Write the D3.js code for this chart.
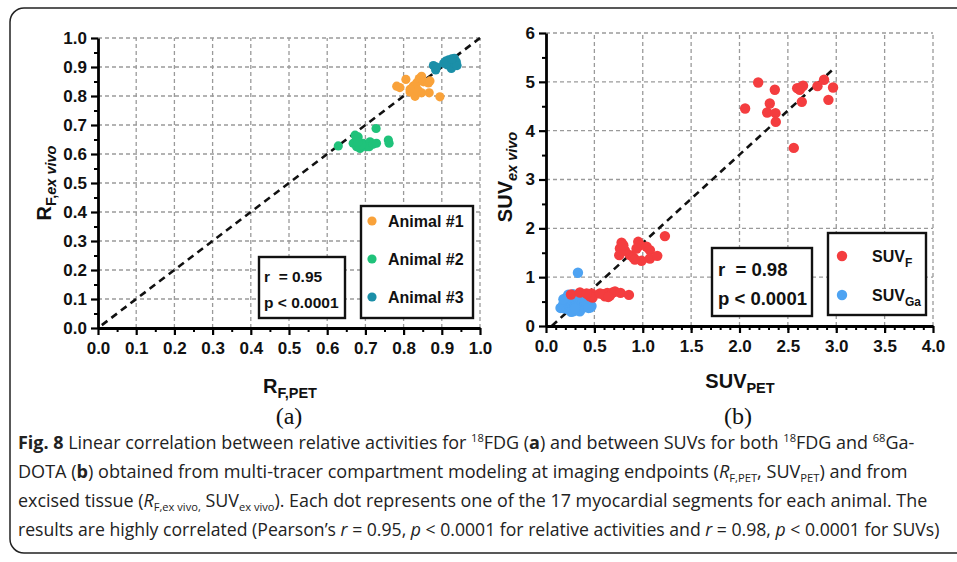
<!DOCTYPE html>
<html>
<head>
<meta charset="utf-8">
<script src="https://cdn.jsdelivr.net/npm/d3@7"></script>
<style>
  body { margin: 0; background: #fff; }
  svg { display: block; }
  text { font-family: "Liberation Sans", Arial, sans-serif; }
  text.cap { font-family: "Open Sans", "Noto Sans", sans-serif; }
  text.serif { font-family: "Liberation Serif", "DejaVu Serif", serif; }
</style>
</head>
<body>
<svg id="fig" width="957" height="562"></svg>
<script>
// ---- panel (a): relative activities, R_F,PET vs R_F,ex vivo ----
const animal1 = [
  [0.782, 0.834], [0.790, 0.829], [0.806, 0.857], [0.817, 0.814], [0.830, 0.799],
  [0.825, 0.834], [0.834, 0.845], [0.841, 0.860], [0.847, 0.868], [0.852, 0.849],
  [0.865, 0.845], [0.869, 0.852], [0.847, 0.811], [0.867, 0.811], [0.895, 0.797],
  [0.817, 0.823], [0.838, 0.820]
];
const animal2 = [
  [0.629, 0.628], [0.673, 0.665], [0.681, 0.659], [0.668, 0.637], [0.677, 0.625],
  [0.686, 0.619], [0.694, 0.637], [0.703, 0.625], [0.712, 0.642], [0.710, 0.625],
  [0.720, 0.634], [0.729, 0.637], [0.728, 0.688], [0.760, 0.648], [0.762, 0.637],
  [0.690, 0.632], [0.680, 0.640]
];
const animal3 = [
  [0.878, 0.905], [0.884, 0.890], [0.886, 0.900], [0.905, 0.913], [0.910, 0.920],
  [0.915, 0.907], [0.918, 0.925], [0.922, 0.915], [0.925, 0.895], [0.928, 0.903],
  [0.930, 0.922], [0.933, 0.930], [0.935, 0.910], [0.938, 0.918], [0.940, 0.905],
  [0.912, 0.912], [0.926, 0.928]
];
const identityLine = [[0.01, 0.01], [1, 1]];
const animalNames = ["Animal #1", "Animal #2", "Animal #3"];
const statsA = ["r  = 0.95", "p < 0.0001"];

// ---- panel (b): SUV_PET vs SUV_ex vivo ----
const suvF = [
  // high cluster
  [2.058, 4.453], [2.193, 4.987], [2.313, 4.556], [2.286, 4.371], [2.365, 4.837],
  [2.372, 4.358], [2.375, 4.180], [2.561, 3.647], [2.596, 4.871], [2.623, 4.837],
  [2.640, 4.892], [2.657, 4.919], [2.644, 4.590], [2.806, 4.912], [2.874, 5.042],
  [2.919, 4.631], [2.967, 4.884],
  // middle cluster
  [0.781, 1.704], [0.764, 1.588], [0.757, 1.451], [0.816, 1.540], [0.868, 1.451],
  [0.902, 1.403], [0.953, 1.724], [0.971, 1.656], [0.988, 1.335], [1.040, 1.622],
  [1.074, 1.553], [1.074, 1.383], [1.150, 1.437], [1.229, 1.841], [0.919, 1.362],
  [0.799, 1.656], [0.936, 1.588],
  // low cluster
  [0.258, 0.644], [0.351, 0.685], [0.437, 0.644], [0.472, 0.665], [0.482, 0.583],
  [0.592, 0.650], [0.609, 0.609], [0.633, 0.678], [0.661, 0.623], [0.689, 0.685],
  [0.713, 0.706], [0.771, 0.678], [0.857, 0.637], [0.454, 0.609], [0.558, 0.665],
  [0.644, 0.595], [0.420, 0.665]
];
const suvGa = [
  [0.15, 0.37], [0.17, 0.40], [0.18, 0.45], [0.19, 0.36], [0.20, 0.50], [0.20, 0.42],
  [0.21, 0.58], [0.22, 0.47], [0.22, 0.35], [0.23, 0.55], [0.24, 0.40], [0.24, 0.62],
  [0.25, 0.45], [0.25, 0.33], [0.26, 0.52], [0.26, 0.38], [0.27, 0.60], [0.27, 0.43],
  [0.28, 0.48], [0.28, 0.30], [0.29, 0.55], [0.29, 0.37], [0.30, 0.42], [0.30, 0.62],
  [0.31, 0.50], [0.31, 0.32], [0.32, 0.45], [0.32, 0.58], [0.33, 1.09], [0.33, 0.40],
  [0.34, 0.52], [0.34, 0.35], [0.35, 0.47], [0.36, 0.60], [0.36, 0.40], [0.37, 0.44],
  [0.38, 0.55], [0.39, 0.38], [0.40, 0.47], [0.42, 0.40], [0.44, 0.43], [0.46, 0.38],
  [0.47, 0.41], [0.23, 0.64], [0.28, 0.65], [0.18, 0.55], [0.35, 0.30], [0.26, 0.29],
  [0.41, 0.52], [0.44, 0.37], [0.30, 0.36]
];
const fitLine = [[0.06, 0], [2.98, 5.28]];
const statsB = ["r  = 0.98", "p < 0.0001"];

const xTicksA = d3.range(0, 1.001, 0.1), yTicksA = d3.range(0, 1.001, 0.1);
const xTicksB = d3.range(0, 4.001, 0.5), yTicksB = d3.range(0, 6.001, 1);

const colors = { a1: "#f9a23a", a2: "#1fc27a", a3: "#1b8fa8", f: "#f43d3f", ga: "#4ea3f2" };

const svg = d3.select("#fig");

// outer rounded frame
svg.append("rect")
  .attr("x", 10).attr("y", 8).attr("width", 980).attr("height", 545)
  .attr("rx", 14)
  .attr("fill", "none").attr("stroke", "#222").attr("stroke-width", 1.5);

function panel(o) {
  const g = svg.append("g");
  const x = d3.scaleLinear().domain(o.xDom).range(o.xRange);
  const y = d3.scaleLinear().domain(o.yDom).range(o.yRange);

  // dashed grid
  g.append("g").selectAll("line").data(o.xTicks.slice(1)).join("line")
    .attr("x1", d => x(d)).attr("x2", d => x(d))
    .attr("y1", o.yRange[0]).attr("y2", o.yRange[1])
    .attr("stroke", "#9a9a9a").attr("stroke-width", 1.3).attr("stroke-dasharray", "4,3");
  g.append("g").selectAll("line").data(o.yTicks.slice(1)).join("line")
    .attr("y1", d => y(d)).attr("y2", d => y(d))
    .attr("x1", o.xRange[0]).attr("x2", o.xRange[1])
    .attr("stroke", "#9a9a9a").attr("stroke-width", 1.3).attr("stroke-dasharray", "4,3");

  // dashed reference / fit line
  g.append("path")
    .datum(o.line)
    .attr("d", d3.line().x(d => x(d[0])).y(d => y(d[1])))
    .attr("fill", "none").attr("stroke", "#111").attr("stroke-width", 2.6)
    .attr("stroke-dasharray", "7,5");

  // points
  o.series.forEach(s => {
    g.append("g").selectAll("circle").data(s.data).join("circle")
      .attr("cx", d => x(d[0])).attr("cy", d => y(d[1]))
      .attr("r", o.r).attr("fill", s.color);
  });

  // minor ticks
  g.append("g").attr("transform", "translate(0," + o.yRange[0] + ")")
    .call(d3.axisBottom(x).tickValues(o.xMinor).tickSize(4).tickFormat(""))
    .call(a => a.select(".domain").remove())
    .selectAll("line").attr("stroke-width", 2);
  g.append("g").attr("transform", "translate(" + o.xRange[0] + ",0)")
    .call(d3.axisLeft(y).tickValues(o.yMinor).tickSize(4).tickFormat(""))
    .call(a => a.select(".domain").remove())
    .selectAll("line").attr("stroke-width", 2);

  // major axes
  const xa = g.append("g").attr("transform", "translate(0," + o.yRange[0] + ")")
    .call(d3.axisBottom(x).tickValues(o.xTicks).tickSize(7).tickSizeOuter(0).tickFormat(o.xFmt).tickPadding(7));
  const ya = g.append("g").attr("transform", "translate(" + o.xRange[0] + ",0)")
    .call(d3.axisLeft(y).tickValues(o.yTicks).tickSize(7).tickSizeOuter(0).tickFormat(o.yFmt).tickPadding(4));
  [xa, ya].forEach(a => {
    a.select(".domain").attr("stroke-width", 2.8);
    a.selectAll(".tick line").attr("stroke-width", 2.2);
    a.selectAll("text").attr("font-size", 17).attr("font-weight", "bold").attr("fill", "#111");
  });
  return { g, x, y };
}

const pa = panel({
  xDom: [0, 1], yDom: [0, 1], xRange: [98, 480], yRange: [328, 38],
  xTicks: xTicksA, yTicks: yTicksA,
  xMinor: d3.range(0.05, 1, 0.1), yMinor: d3.range(0.05, 1, 0.1),
  xFmt: d3.format(".1f"), yFmt: d3.format(".1f"),
  line: identityLine, r: 4.6,
  series: [
    { data: animal2, color: colors.a2 },
    { data: animal1, color: colors.a1 },
    { data: animal3, color: colors.a3 }
  ]
});

const pb = panel({
  xDom: [0, 4], yDom: [0, 6], xRange: [546, 933], yRange: [326, 33],
  xTicks: xTicksB, yTicks: yTicksB,
  xMinor: d3.range(0.1, 4, 0.1), yMinor: d3.range(0.5, 6, 1),
  xFmt: d3.format(".1f"), yFmt: d3.format("d"),
  line: fitLine, r: 5.2,
  series: [
    { data: suvGa, color: colors.ga },
    { data: suvF, color: colors.f }
  ]
});

// boxes
function box(x0, y0, w, h) {
  svg.append("rect").attr("x", x0).attr("y", y0).attr("width", w).attr("height", h)
    .attr("fill", "#fff").attr("stroke", "#111").attr("stroke-width", 2.4);
}

// stats (a)
box(259, 257, 86, 61);
svg.selectAll(".sa").data(statsA).join("text").attr("class", "sa")
  .attr("x", 264).attr("y", (d, i) => 282 + i * 26)
  .attr("font-size", 15.5).attr("font-weight", "bold").attr("fill", "#111")
  .attr("xml:space", "preserve").text(d => d);

// legend (a)
box(361, 206, 112, 112);
const legA = svg.selectAll(".la").data(animalNames).join("g").attr("class", "la")
  .attr("transform", (d, i) => "translate(372," + (221 + i * 38) + ")");
legA.append("circle").attr("r", 4.6).attr("fill", (d, i) => [colors.a1, colors.a2, colors.a3][i]);
legA.append("text").attr("x", 16).attr("y", 6).attr("font-size", 16).attr("font-weight", "bold")
  .attr("fill", "#111").text(d => d);

// stats (b)
box(712, 248, 100, 68);
svg.selectAll(".sb").data(statsB).join("text").attr("class", "sb")
  .attr("x", 718).attr("y", (d, i) => 276 + i * 29)
  .attr("font-size", 18.5).attr("font-weight", "bold").attr("fill", "#111")
  .attr("xml:space", "preserve").text(d => d);

// legend (b)
box(828, 233, 98, 82);
[["F", colors.f, 256], ["Ga", colors.ga, 295]].forEach(([sub, c, cy]) => {
  svg.append("circle").attr("cx", 842).attr("cy", cy).attr("r", 5.2).attr("fill", c);
  const t = svg.append("text").attr("x", 872).attr("y", cy + 6)
    .attr("font-size", 16).attr("font-weight", "bold").attr("fill", "#111");
  t.append("tspan").text("SUV");
  t.append("tspan").attr("dy", 5).attr("font-size", 12).text(sub);
});

// axis titles
function title(x0, y0, main, parts, rotate, size, subSize) {
  const t = svg.append("text").attr("font-weight", "bold").attr("fill", "#111")
    .attr("text-anchor", "middle")
    .attr("transform", "translate(" + x0 + "," + y0 + ")" + (rotate ? " rotate(-90)" : ""));
  t.append("tspan").attr("font-size", size).text(main);
  parts.forEach((p, i) => {
    const s = t.append("tspan").attr("font-size", subSize).text(p.t);
    if (i === 0) s.attr("dy", 5);
    if (p.i) s.attr("font-style", "italic");
  });
}
title(290, 393, "R", [{ t: "F,PET" }], false, 20, 14.5);
title(51, 183, "R", [{ t: "F," }, { t: "ex vivo", i: true }], true, 20, 14.5);
title(740, 388, "SUV", [{ t: "PET" }], false, 20, 14.5);
title(512, 177, "SUV", [{ t: "ex vivo", i: true }], true, 20, 14.5);

// panel letters
svg.append("text").attr("class", "serif").attr("x", 289).attr("y", 424).attr("text-anchor", "middle")
  .attr("font-size", 24).attr("fill", "#111").text("(a)");
svg.append("text").attr("class", "serif").attr("x", 738).attr("y", 424).attr("text-anchor", "middle")
  .attr("font-size", 24).attr("fill", "#111").text("(b)");

// caption
const capLines = [
  { y: 449, w: 897, parts: [
    { t: "Fig. 8", b: true }, { t: " Linear correlation between relative activities for " },
    { t: "18", sup: true }, { t: "FDG (" }, { t: "a", b: true }, { t: ") and between SUVs for both " },
    { t: "18", sup: true }, { t: "FDG and " }, { t: "68", sup: true }, { t: "Ga-" }] },
  { y: 478, w: 890, parts: [
    { t: "DOTA (" }, { t: "b", b: true }, { t: ") obtained from multi-tracer compartment modeling at imaging endpoints (" },
    { t: "R", i: true }, { t: "F,PET", sub: true }, { t: ", SUV" }, { t: "PET", sub: true }, { t: ") and from" }] },
  { y: 507, w: 910, parts: [
    { t: "excised tissue (" }, { t: "R", i: true }, { t: "F,ex vivo,", sub: true }, { t: " SUV" },
    { t: "ex vivo", sub: true }, { t: "). Each dot represents one of the 17 myocardial segments for each animal. The" }] },
  { y: 536, w: 922, parts: [
    { t: "results are highly correlated (Pearson\u2019s " }, { t: "r", i: true }, { t: " = 0.95, " }, { t: "p", i: true },
    { t: " < 0.0001 for relative activities and " }, { t: "r", i: true }, { t: " = 0.98, " }, { t: "p", i: true },
    { t: " < 0.0001 for SUVs)" }] }
];
capLines.forEach(line => {
  const t = svg.append("text").attr("class", "cap").attr("font-size", 18.5).attr("fill", "#222")
    .attr("xml:space", "preserve");
  let shift = 0;
  line.parts.forEach(p => {
    const s = t.append("tspan").text(p.t);
    let want = p.sup ? -7 : p.sub ? 4 : 0;
    s.attr("dy", want - shift);
    shift = want;
    if (p.sup || p.sub) s.attr("font-size", 11.5);
    if (p.b) s.attr("font-weight", "bold");
    if (p.i) s.attr("font-style", "italic");
  });
  const w = t.node().getComputedTextLength();
  t.attr("transform", "translate(18," + line.y + ") scale(" + (line.w / w) + ",1)");
});
</script>
</body>
</html>
